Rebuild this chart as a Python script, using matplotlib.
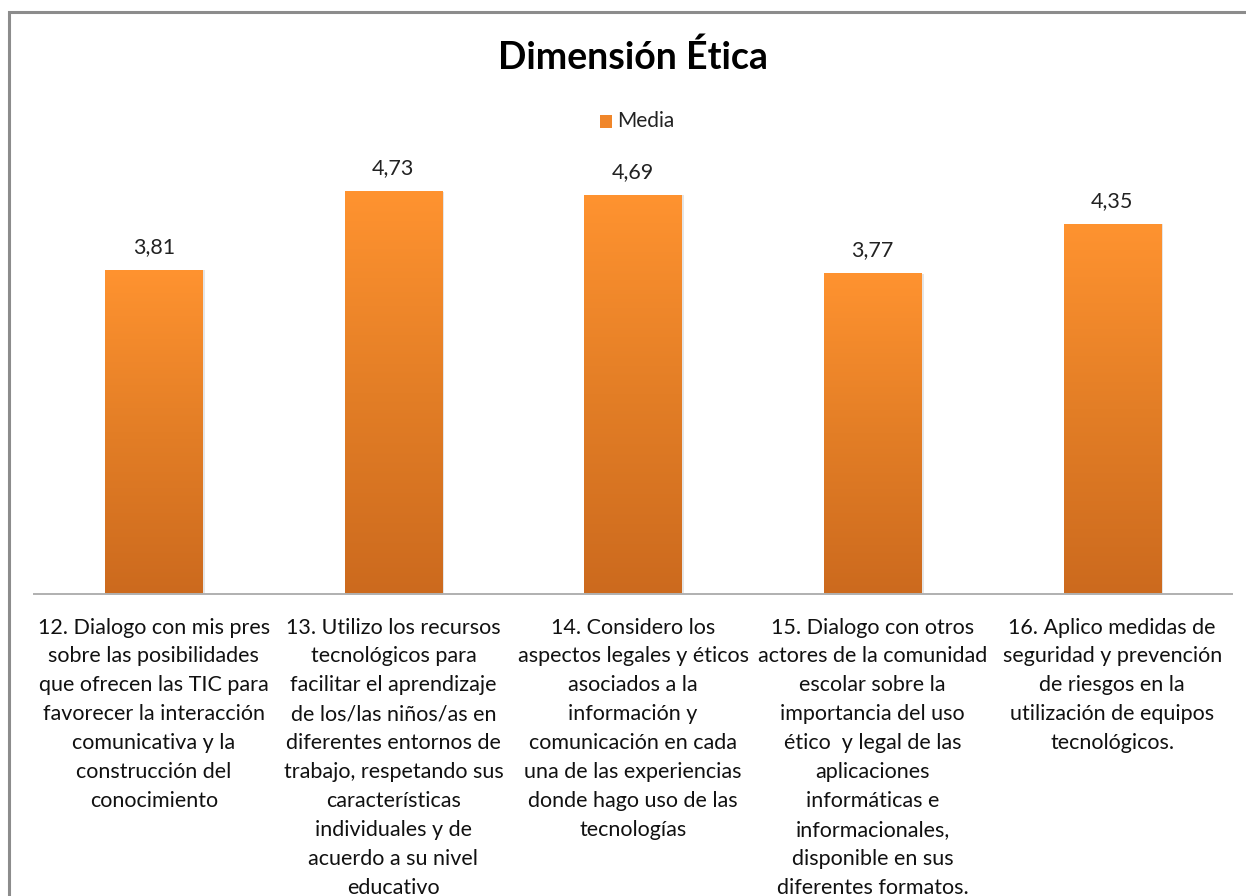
import numpy as np
import matplotlib.pyplot as plt
from matplotlib.patches import Rectangle
from matplotlib.colors import LinearSegmentedColormap

plt.rcParams['font.family'] = ['Lato', 'DejaVu Sans']

# data
categories = [
    '12. Dialogo con mis pres\nsobre las posibilidades\nque ofrecen las TIC para\nfavorecer la interacción\ncomunicativa y la\nconstrucción del\nconocimiento',
    '13. Utilizo los recursos\ntecnológicos para\nfacilitar el aprendizaje\nde los/las niños/as en\ndiferentes entornos de\ntrabajo, respetando sus\ncaracterísticas\nindividuales y de\nacuerdo a su nivel\neducativo',
    '14. Considero los\naspectos legales y éticos\nasociados a la\ninformación y\ncomunicación en cada\nuna de las experiencias\ndonde hago uso de las\ntecnologías',
    '15. Dialogo con otros\nactores de la comunidad\nescolar sobre la\nimportancia del uso\nético  y legal de las\naplicaciones\ninformáticas e\ninformacionales,\ndisponible en sus\ndiferentes formatos.',
    '16. Aplico medidas de\nseguridad y prevención\nde riesgos en la\nutilización de equipos\ntecnológicos.',
]
media = [3.81, 4.73, 4.69, 3.77, 4.35]
value_labels = ['3,81', '4,73', '4,69', '3,77', '4,35']

W, H = 1246, 896
fig = plt.figure(figsize=(W / 100, H / 100), dpi=100)

# outer chart border (only left and top visible)
fig.patches.append(Rectangle((9 / W, -0.1), 1.2, (H - 12) / H + 0.1,
                             transform=fig.transFigure, fill=False,
                             edgecolor='#8c8c8c', linewidth=2.2, zorder=0))

ax = fig.add_axes([34 / W, (H - 594) / H, (1232 - 34) / W, (594 - 83) / H])
x = np.arange(len(media))
width = 0.405
bars = ax.bar(x, media, width=width, color='none', edgecolor='none', zorder=2)

cmap = LinearSegmentedColormap.from_list('org', ['#cc6a1e', '#e37e26', '#ff9330'])
grad = np.linspace(0, 1, 256).reshape(-1, 1)
for b in bars:
    x0, w, h = b.get_x(), b.get_width(), b.get_height()
    # faint shadow
    ax.add_patch(Rectangle((x0 + 0.006, 0), w + 0.004, h - 0.01,
                           facecolor='#000000', alpha=0.10, edgecolor='none', zorder=1))
    im = ax.imshow(grad, extent=[x0, x0 + w, 0, h], origin='lower', cmap=cmap,
                   aspect='auto', zorder=2)
    im.set_clip_path(b)

for xi, v, lab in zip(x, media, value_labels):
    ax.text(xi, v + 0.15, lab, ha='center', va='bottom', fontsize=15.5, color='#222222')

ax.set_xlim(-0.5, len(media) - 0.5)
ax.set_ylim(0, 6)
ax.set_yticks([])
ax.set_xticks(x)
ax.set_xticklabels(categories, fontsize=15.5, color='#111111', linespacing=1.555)
ax.tick_params(axis='x', length=0, pad=17)
for s in ['top', 'left', 'right']:
    ax.spines[s].set_visible(False)
ax.spines['bottom'].set_color('#b0b0b0')
ax.spines['bottom'].set_linewidth(1.4)

fig.text(633 / W, 1 - 57 / H, 'Dimensión Ética', ha='center', va='center',
         fontsize=27, fontweight='bold', color='#000000')

# legend
fig.patches.append(Rectangle((600 / W, 1 - 128 / H), 12 / W, 13 / H,
                             transform=fig.transFigure, facecolor='#f0862a',
                             edgecolor='none'))
fig.text(617 / W, 1 - 121 / H, 'Media', ha='left', va='center',
         fontsize=15, color='#222222')

fig.savefig('out.png', dpi=100)
